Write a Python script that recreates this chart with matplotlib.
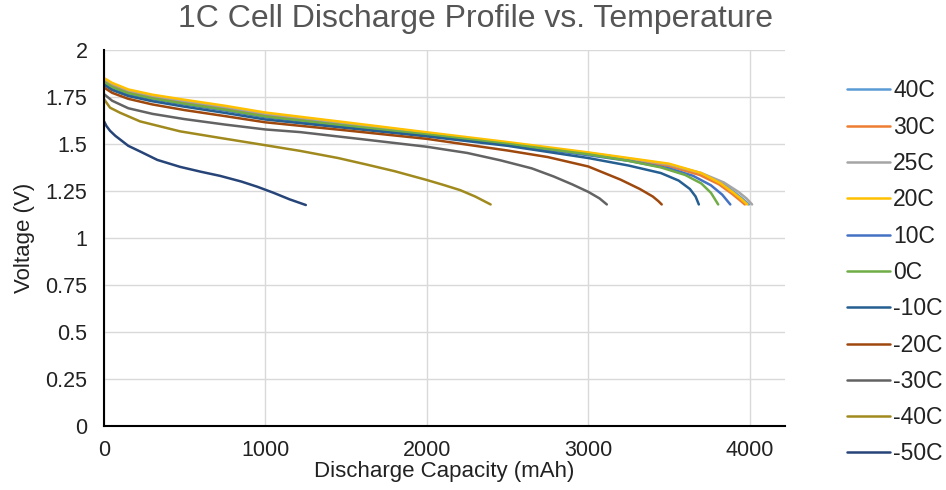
import numpy as np
import matplotlib
matplotlib.use('Agg')
import matplotlib.pyplot as plt

plt.rcParams['font.family'] = ['Liberation Sans', 'DejaVu Sans']

# discharge curves: capacity (mAh) and voltage (V)
head_cap = [0, 50, 150, 300, 500, 750, 1000, 1500, 2000, 2500]

cap_40 = head_cap + [3000, 3250, 3500, 3700, 3830, 3910, 3960, 3995]
v_40 = [1.84, 1.812, 1.778, 1.75, 1.722, 1.69, 1.655, 1.605, 1.555, 1.503,
        1.45, 1.42, 1.388, 1.34, 1.29, 1.24, 1.205, 1.178]

cap_30 = head_cap + [3000, 3250, 3500, 3690, 3810, 3890, 3940, 3970]
v_30 = [1.835, 1.806, 1.772, 1.744, 1.716, 1.684, 1.648, 1.598, 1.548, 1.497,
        1.445, 1.415, 1.382, 1.335, 1.285, 1.235, 1.2, 1.178]

cap_25 = head_cap + [3000, 3250, 3500, 3700, 3840, 3930, 3980, 4015]
v_25 = [1.845, 1.82, 1.785, 1.757, 1.73, 1.698, 1.662, 1.61, 1.557, 1.505,
        1.452, 1.422, 1.39, 1.345, 1.295, 1.245, 1.21, 1.178]

cap_20 = head_cap + [3000, 3250, 3500, 3700, 3820, 3900, 3950, 3985]
v_20 = [1.85, 1.825, 1.79, 1.762, 1.735, 1.703, 1.667, 1.615, 1.562, 1.51,
        1.455, 1.425, 1.395, 1.345, 1.29, 1.24, 1.205, 1.178]

cap_10 = head_cap + [3000, 3250, 3500, 3650, 3760, 3830, 3880]
v_10 = [1.825, 1.798, 1.765, 1.738, 1.71, 1.678, 1.642, 1.593, 1.545, 1.495,
        1.44, 1.41, 1.37, 1.33, 1.28, 1.23, 1.178]

cap_0 = head_cap + [3000, 3250, 3450, 3600, 3700, 3760, 3805]
v_0 = [1.83, 1.802, 1.77, 1.742, 1.714, 1.682, 1.646, 1.597, 1.55, 1.5,
       1.445, 1.41, 1.375, 1.335, 1.29, 1.24, 1.178]

cap_m10 = head_cap + [3000, 3250, 3450, 3560, 3630, 3665, 3685]
v_m10 = [1.815, 1.787, 1.755, 1.727, 1.698, 1.665, 1.63, 1.585, 1.54, 1.49,
         1.425, 1.385, 1.345, 1.305, 1.26, 1.22, 1.178]

cap_m20 = head_cap + [2750, 3000, 3200, 3320, 3400, 3435, 3455]
v_m20 = [1.80, 1.772, 1.74, 1.71, 1.68, 1.648, 1.615, 1.572, 1.527, 1.465,
         1.43, 1.38, 1.31, 1.26, 1.22, 1.195, 1.178]

cap_m30 = [0, 50, 150, 300, 500, 750, 1000, 1215, 1600, 2000, 2250, 2455,
           2650, 2785, 2900, 3000, 3070, 3115]
v_m30 = [1.765, 1.73, 1.69, 1.66, 1.632, 1.603, 1.577, 1.563, 1.525, 1.485, 1.452, 1.413,
         1.37, 1.327, 1.285, 1.245, 1.21, 1.178]

cap_m40 = [0, 37, 99, 223, 471, 719, 950, 1215, 1450, 1628, 1800, 2000, 2110, 2207, 2300, 2395]
v_m40 = [1.738, 1.693, 1.666, 1.62, 1.567, 1.532, 1.50, 1.463, 1.425, 1.39, 1.355, 1.308,
         1.28, 1.254, 1.22, 1.178]

cap_m50 = [0, 15, 37, 70, 99, 150, 223, 330, 471, 600, 719, 850, 950, 1050, 1150, 1250]
v_m50 = [1.62, 1.595, 1.57, 1.543, 1.524, 1.49, 1.46, 1.415, 1.378, 1.352, 1.33, 1.30,
         1.272, 1.24, 1.205, 1.175]

labels = ['40C', '30C', '25C', '20C', '10C', '0C', '-10C', '-20C', '-30C', '-40C', '-50C']
caps = [cap_40, cap_30, cap_25, cap_20, cap_10, cap_0, cap_m10, cap_m20, cap_m30, cap_m40, cap_m50]
volts = [v_40, v_30, v_25, v_20, v_10, v_0, v_m10, v_m20, v_m30, v_m40, v_m50]
colors = ['#5b9bd5', '#ed7d31', '#a5a5a5', '#ffc000', '#4472c4', '#70ad47',
          '#255e91', '#9e480e', '#636363', '#a08a1e', '#264478']

x_ticks = [0, 1000, 2000, 3000, 4000]
y_ticks = [0, 0.25, 0.5, 0.75, 1, 1.25, 1.5, 1.75, 2]
y_tick_labels = ['0', '0.25', '0.5', '0.75', '1', '1.25', '1.5', '1.75', '2']

fig = plt.figure(figsize=(9.46, 4.9), dpi=100)
ax = fig.add_axes([0.110, 0.131, 0.720, 0.767])

for i in range(len(labels)):
    ax.plot(caps[i], volts[i], '-', color=colors[i], linewidth=1.8,
            label=labels[i], solid_capstyle='round', solid_joinstyle='round')

ax.set_xlim(0, 4220)
ax.set_ylim(0, 2)
ax.set_xticks(x_ticks)
ax.set_yticks(y_ticks)
ax.set_yticklabels(y_tick_labels)
ax.tick_params(length=0, labelsize=15.5, colors='#222222')
ax.tick_params(axis='y', pad=12)
ax.tick_params(axis='x', pad=10)
ax.grid(True, color='#d9d9d9', linewidth=1.0)
ax.set_axisbelow(True)
for s in ['top', 'right']:
    ax.spines[s].set_visible(False)
ax.spines['left'].set_linewidth(1.5)
ax.spines['bottom'].set_linewidth(1.5)

ax.set_xlabel('Discharge Capacity (mAh)', fontsize=16, color='#222222', labelpad=0)
ax.set_ylabel('Voltage (V)', fontsize=16, color='#222222')
ax.yaxis.set_label_coords(-0.101, 0.5)
fig.text(0.503, 0.962, '1C Cell Discharge Profile vs. Temperature', fontsize=23,
         color='#555555', ha='center', va='center')

leg = fig.legend(loc='center left', bbox_to_anchor=(0.895, 0.444), frameon=False,
                 fontsize=16.5, handlelength=1.9, handletextpad=0.13,
                 labelspacing=0.58, borderpad=0, borderaxespad=0)
for t in leg.get_texts():
    t.set_color('#222222')

plt.savefig('out.png', dpi=100)
